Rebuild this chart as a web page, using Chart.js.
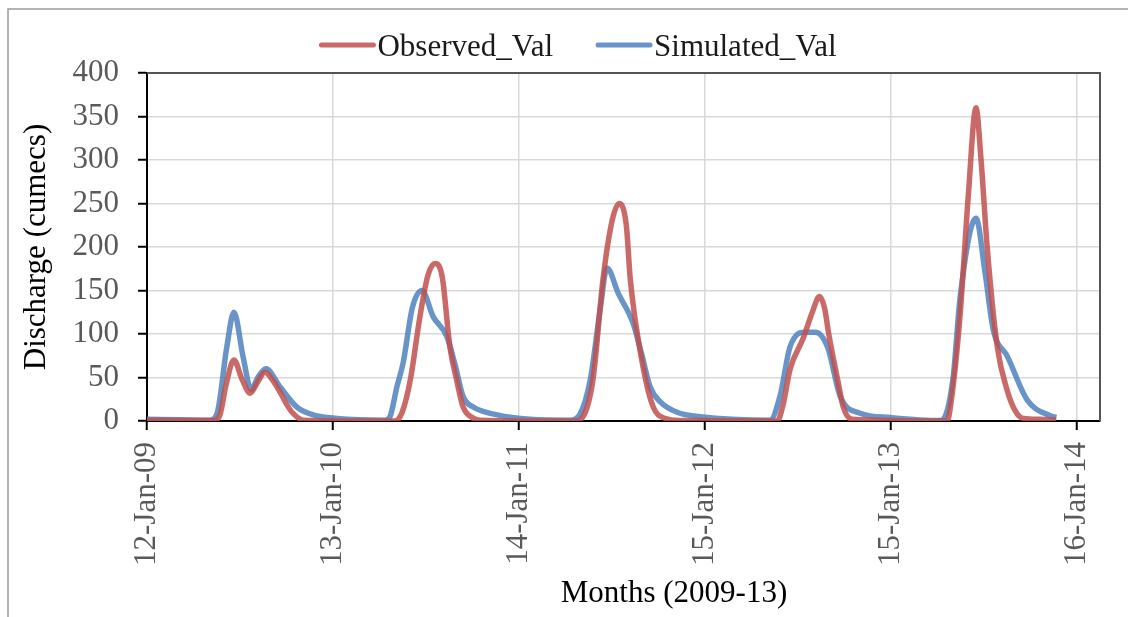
<!DOCTYPE html>
<html>
<head>
<meta charset="utf-8">
<title>Observed vs Simulated discharge</title>
<script src="https://cdn.jsdelivr.net/npm/chart.js@4/dist/chart.umd.min.js"></script>
<style>
  html, body { margin: 0; padding: 0; background: #fff; }
  #wrap { width: 1128px; height: 617px; }
</style>
</head>
<body>
<div id="wrap"><canvas id="flowChart" width="1128" height="617"></canvas></div>
<script>
// x values are days counted from 12-Jan-09
const tickDays = [0, 366, 732, 1098, 1464, 1830];
const tickLabels = ['12-Jan-09', '13-Jan-10', '14-Jan-11', '15-Jan-12', '15-Jan-13', '16-Jan-14'];

const observedDays = [0, 75, 134, 144, 155, 171, 187, 203, 218, 232, 246, 262, 276, 287, 307,
  488, 502, 518, 537, 553, 567, 581, 596, 610, 622, 640, 655,
  842, 858, 878, 897, 915, 929, 943, 951, 976, 996, 1019, 1049,
  1240, 1252, 1265, 1291, 1309, 1323, 1333, 1341, 1359, 1370, 1387,
  1574, 1586, 1600, 1616, 1631, 1641, 1653, 1673, 1692, 1708, 1724, 1757, 1789];
const observedVal = [1, 0.5, 1, 8, 40, 70, 48, 32, 45, 56, 48, 33, 18, 9, 1,
  0, 10, 47, 120, 168, 181, 165, 85, 45, 16, 4, 1,
  0, 5, 50, 162, 230, 250, 225, 162, 62, 16, 3, 0.5,
  0, 20, 59, 95, 125, 143, 130, 101, 47, 16, 2,
  0, 40, 124, 260, 360, 300, 200, 85, 36, 12, 3, 2, 1];

const simulatedDays = [0, 65, 124, 138, 157, 171, 189, 205, 218, 234, 262, 295, 327, 374,
  468, 478, 492, 504, 522, 541, 563, 590, 606, 622, 642, 689, 754,
  832, 852, 872, 892, 905, 927, 956, 974, 990, 1010, 1043, 1088,
  1226, 1246, 1265, 1295, 1315, 1339, 1364, 1403, 1462,
  1561, 1567, 1586, 1600, 1631, 1649, 1665, 1693, 1732, 1777, 1789];
const simulatedVal = [2, 1.5, 1, 9, 85, 125, 74, 36, 50, 60, 39, 16, 7, 3,
  1, 5, 40, 67, 130, 150, 120, 97, 65, 28, 16, 7, 2,
  1, 8, 47, 130, 176, 147, 113, 75, 39, 22, 10, 5,
  1, 30, 85, 102, 102, 85, 28, 9, 4,
  0.5, 2, 50, 143, 233, 170, 105, 74, 24, 6, 4];

const yTicks = [0, 50, 100, 150, 200, 250, 300, 350, 400];

const FONT = "'Liberation Serif', 'Times New Roman', serif";

function toPoints(days, vals) {
  return days.map((d, i) => ({ x: d, y: vals[i] }));
}

// white page, faint figure frame, plot frame, legend and x title
const decorations = {
  id: 'decorations',
  beforeDraw(chart) {
    const ctx = chart.ctx;
    ctx.save();
    ctx.fillStyle = '#fff';
    ctx.fillRect(0, 0, chart.width, chart.height);
    ctx.strokeStyle = '#9a9a9a';
    ctx.lineWidth = 1.5;
    ctx.beginPath();
    ctx.moveTo(8, chart.height);
    ctx.lineTo(8, 9);
    ctx.lineTo(chart.width, 9);
    ctx.stroke();
    ctx.restore();
  },
  afterDraw(chart) {
    const ctx = chart.ctx;
    const area = chart.chartArea;
    ctx.save();
    ctx.strokeStyle = '#555';
    ctx.lineWidth = 2;
    ctx.beginPath();
    ctx.moveTo(area.left, area.top);
    ctx.lineTo(area.right, area.top);
    ctx.lineTo(area.right, area.bottom);
    ctx.stroke();

    // legend
    ctx.font = '31px ' + FONT;
    ctx.textBaseline = 'alphabetic';
    ctx.fillStyle = '#1a1a1a';
    const sets = chart.data.datasets;
    const widths = sets.map(ds => ctx.measureText(ds.label).width);
    const total = widths.reduce((a, w) => a + w + 60, 0) + 43 * (sets.length - 1);
    let x = 580 - total / 2;
    sets.forEach((ds, i) => {
      ctx.strokeStyle = ds.borderColor;
      ctx.lineWidth = 5;
      ctx.lineCap = 'round';
      ctx.beginPath();
      ctx.moveTo(x + 2, 45);
      ctx.lineTo(x + 54, 45);
      ctx.stroke();
      ctx.fillText(ds.label, x + 58, 56);
      x += 58 + widths[i] + 43;
    });

    // x axis title
    ctx.textAlign = 'center';
    ctx.fillStyle = '#000';
    ctx.fillText('Months (2009-13)', 674, 602);
    ctx.restore();
  }
};

new Chart(document.getElementById('flowChart'), {
  type: 'line',
  data: {
    datasets: [
      {
        label: 'Observed_Val',
        data: toPoints(observedDays, observedVal),
        borderColor: 'rgba(192, 80, 77, 0.85)',
        borderWidth: 5.5,
        pointRadius: 0,
        cubicInterpolationMode: 'monotone',
        fill: false
      },
      {
        label: 'Simulated_Val',
        data: toPoints(simulatedDays, simulatedVal),
        borderColor: 'rgba(79, 129, 189, 0.85)',
        borderWidth: 5.5,
        pointRadius: 0,
        cubicInterpolationMode: 'monotone',
        fill: false
      }
    ]
  },
  options: {
    responsive: false,
    animation: false,
    layout: { padding: { top: 73, right: 28, left: 0, bottom: 0 } },
    plugins: {
      legend: { display: false },
      tooltip: { enabled: false }
    },
    scales: {
      x: {
        type: 'linear',
        min: 0,
        max: 1875,
        afterBuildTicks(scale) {
          scale.ticks = tickDays.map(v => ({ value: v }));
        },
        afterFit(scale) {
          scale.height = 196;
        },
        ticks: {
          minRotation: 90,
          maxRotation: 90,
          padding: 12,
          color: '#595959',
          font: { family: FONT, size: 31 },
          callback(value) {
            const i = tickDays.indexOf(value);
            return i >= 0 ? tickLabels[i] : '';
          }
        },
        grid: {
          color: '#d9d9d9',
          lineWidth: 1.5,
          tickLength: 9,
          tickColor: '#000',
          tickWidth: 2
        },
        border: { color: '#000', width: 2 }
      },
      y: {
        min: 0,
        max: 400,
        afterBuildTicks(scale) {
          scale.ticks = yTicks.map(v => ({ value: v }));
        },
        afterFit(scale) {
          scale.width = 147;
        },
        ticks: {
          padding: 19,
          color: '#595959',
          font: { family: FONT, size: 31 }
        },
        grid: {
          color: '#d9d9d9',
          lineWidth: 1.5,
          tickLength: 9,
          tickColor: '#000',
          tickWidth: 2
        },
        border: { color: '#000', width: 2 },
        title: {
          display: true,
          text: 'Discharge (cumecs)',
          color: '#000',
          font: { family: FONT, size: 31, lineHeight: 1.2 },
          padding: { top: 18, bottom: 0 }
        }
      }
    }
  },
  plugins: [decorations]
});
</script>
</body>
</html>
